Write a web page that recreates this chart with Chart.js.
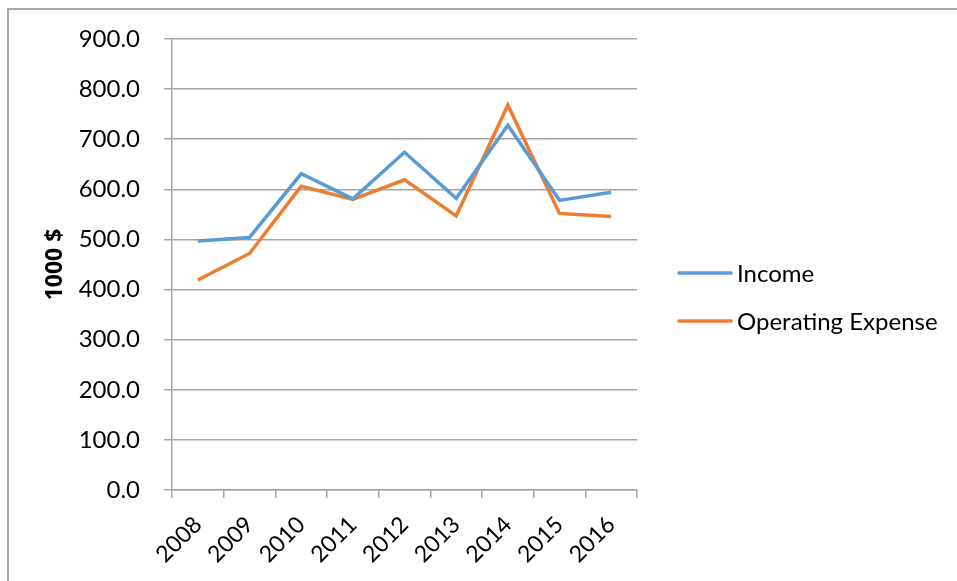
<!DOCTYPE html>
<html>
<head>
<meta charset="utf-8">
<script src="https://cdn.jsdelivr.net/npm/chart.js@4.4.1/dist/chart.umd.min.js"></script>
<style>
  html, body { margin: 0; padding: 0; background: #fff; }
  #wrap { position: relative; width: 957px; height: 581px; }
  #frame {
    position: absolute; left: 7px; top: 8px; right: -10px; bottom: -10px;
    border-left: 2px solid #A6A6A6; border-top: 2px solid #A6A6A6;
  }
  canvas { position: absolute; left: 0; top: 0; }
</style>
</head>
<body>
<div id="wrap">
  <div id="frame"></div>
  <canvas id="lineChart" width="957" height="581"></canvas>
</div>
<script>
const years = ["2008", "2009", "2010", "2011", "2012", "2013", "2014", "2015", "2016"];
const income = [497, 504, 631, 581, 674, 582, 728, 578, 594];
const operatingExpense = [419, 472, 606, 580, 619, 547, 768, 552, 546];
const yTicks = [0, 100, 200, 300, 400, 500, 600, 700, 800, 900];

const FONT = "Lato, 'Open Sans', sans-serif";

// legend drawn beside the plot, like the spreadsheet one
const sideLegend = {
    id: "sideLegend",
    afterDraw(chart) {
        const ctx = chart.ctx;
        ctx.save();
        chart.data.datasets.forEach((ds, i) => {
            const y = 273 + i * 48;
            ctx.strokeStyle = ds.borderColor;
            ctx.lineWidth = 3.5;
            ctx.lineCap = "round";
            ctx.beginPath();
            ctx.moveTo(679, y);
            ctx.lineTo(731, y);
            ctx.stroke();
            ctx.fillStyle = "#000";
            ctx.font = "24px " + FONT;
            ctx.textBaseline = "middle";
            ctx.textAlign = "left";
            ctx.fillText(ds.label, 737, y + 1);
        });
        ctx.restore();
    }
};

const ctx = document.getElementById("lineChart").getContext("2d");

new Chart(ctx, {
    type: "line",
    data: {
        labels: years,
        datasets: [
            {
                label: "Income",
                data: income,
                borderColor: "#5B9BD5",
                backgroundColor: "#5B9BD5",
                borderWidth: 3.5,
                pointRadius: 0,
                tension: 0
            },
            {
                label: "Operating Expense",
                data: operatingExpense,
                borderColor: "#ED7D31",
                backgroundColor: "#ED7D31",
                borderWidth: 3.5,
                pointRadius: 0,
                tension: 0
            }
        ]
    },
    options: {
        responsive: false,
        animation: false,
        layout: {
            padding: { left: 0, top: 39, right: 320, bottom: 0 }
        },
        plugins: {
            legend: { display: false },
            tooltip: { enabled: false }
        },
        scales: {
            x: {
                offset: true,
                grid: {
                    offset: true,
                    drawOnChartArea: false,
                    drawTicks: true,
                    tickLength: 8,
                    color: "#A6A6A6",
                    lineWidth: 1.5
                },
                border: { color: "#A6A6A6", width: 1.5 },
                ticks: {
                    minRotation: 45,
                    maxRotation: 45,
                    padding: 13,
                    color: "#000",
                    font: { family: FONT, size: 23 }
                },
                afterFit(scale) { scale.height = 91; }
            },
            y: {
                min: 0,
                max: 900,
                afterBuildTicks(scale) {
                    scale.ticks = yTicks.map(v => ({ value: v }));
                },
                grid: {
                    color: "#A6A6A6",
                    lineWidth: 1.5,
                    tickLength: 8
                },
                border: { color: "#A6A6A6", width: 1.5 },
                ticks: {
                    padding: 24,
                    color: "#000",
                    font: { family: FONT, size: 24 },
                    callback: v => Number(v).toFixed(1)
                },
                title: {
                    display: true,
                    text: "1000 $",
                    color: "#000",
                    font: { family: "'Open Sans', Lato, sans-serif", size: 23, weight: "bold" },
                    padding: { top: 42, bottom: 0 }
                },
                afterFit(scale) { scale.width = 172; }
            }
        }
    },
    plugins: [sideLegend]
});
</script>
</body>
</html>
